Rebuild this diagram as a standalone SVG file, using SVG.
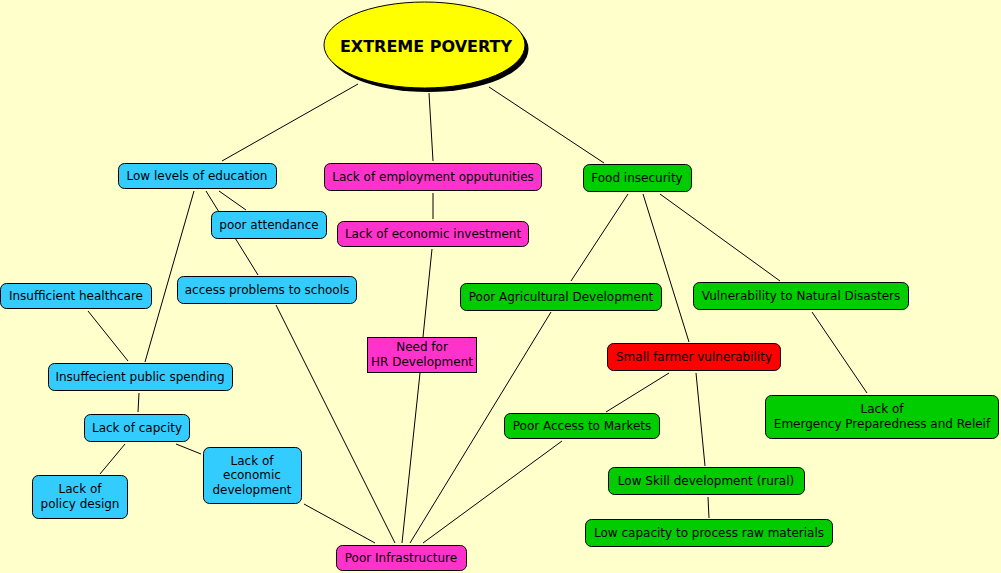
<svg xmlns="http://www.w3.org/2000/svg" width="1001" height="573" viewBox="0 0 1001 573">
<style>
.n{stroke:#000;stroke-width:1}
.b{fill:#33ccff}.m{fill:#ff33cc}.g{fill:#00cc00}.r{fill:#ff0000}
text{font-family:"DejaVu Sans",Verdana,sans-serif;font-size:12px;fill:#000;text-anchor:middle}
.t{font-weight:bold;font-size:16px}
#connectors line{stroke:#000;stroke-width:1}
</style>
<rect width="1001" height="573" fill="#ffffcc"/>
<g id="connectors">
<line x1="358" y1="84" x2="222" y2="161"/>
<line x1="429" y1="93" x2="433" y2="161"/>
<line x1="489" y1="87" x2="604" y2="163"/>
<line x1="219" y1="191" x2="246" y2="210"/>
<line x1="206" y1="191" x2="258" y2="275"/>
<line x1="194" y1="191" x2="145" y2="362"/>
<line x1="88" y1="311" x2="128" y2="361"/>
<line x1="139" y1="393" x2="138" y2="412"/>
<line x1="125" y1="444" x2="100" y2="474"/>
<line x1="176" y1="444" x2="201" y2="454"/>
<line x1="304" y1="504" x2="375" y2="543"/>
<line x1="276" y1="305" x2="395" y2="543"/>
<line x1="433" y1="193" x2="433" y2="219"/>
<line x1="432" y1="249" x2="423" y2="337"/>
<line x1="420" y1="373" x2="402" y2="543"/>
<line x1="628" y1="194" x2="571" y2="281"/>
<line x1="643" y1="194" x2="689" y2="342"/>
<line x1="660" y1="194" x2="780" y2="281"/>
<line x1="812" y1="312" x2="867" y2="393"/>
<line x1="669" y1="373" x2="606" y2="412"/>
<line x1="696" y1="373" x2="705" y2="466"/>
<line x1="708" y1="497" x2="709" y2="518"/>
<line x1="551" y1="312" x2="410" y2="543"/>
<line x1="562" y1="441" x2="423" y2="543"/>
</g>
<g id="extreme-poverty">
<ellipse cx="428" cy="49" rx="100.5" ry="43" fill="#000"/>
<ellipse cx="424.5" cy="45" rx="100.5" ry="43" fill="#ffff00" class="n"/>
<text x="426" y="52" class="t">EXTREME POVERTY</text>
</g>
<g id="low-education"><rect x="118.5" y="163.5" width="158" height="25" rx="6" class="n b"/><text x="197" y="180">Low levels of education</text></g>
<g id="poor-attendance"><rect x="211.5" y="211.5" width="115" height="27" rx="6" class="n b"/><text x="269" y="229">poor attendance</text></g>
<g id="access-problems"><rect x="177.5" y="276.5" width="179" height="27" rx="6" class="n b"/><text x="267" y="294">access problems to schools</text></g>
<g id="insufficient-healthcare"><rect x="0.5" y="283.5" width="151" height="25" rx="6" class="n b"/><text x="76" y="300">Insufficient healthcare</text></g>
<g id="public-spending"><rect x="48.5" y="363.5" width="184" height="27" rx="6" class="n b"/><text x="140" y="381">Insuffecient public spending</text></g>
<g id="lack-capacity"><rect x="84.5" y="414.5" width="105" height="27" rx="6" class="n b"/><text x="137" y="432">Lack of capcity</text></g>
<g id="policy-design"><rect x="32.5" y="475.5" width="95" height="43" rx="6" class="n b"/><text x="80" y="492.5">Lack of</text><text x="80" y="507.5">policy design</text></g>
<g id="economic-development"><rect x="203.5" y="447.5" width="98" height="56" rx="6" class="n b"/><text x="252" y="464.5">Lack of</text><text x="252" y="479">economic</text><text x="252" y="493.5">development</text></g>
<g id="employment"><rect x="324.5" y="163.5" width="217" height="27" rx="6" class="n m"/><text x="433" y="181">Lack of employment opputunities</text></g>
<g id="investment"><rect x="337.5" y="221.5" width="191" height="25" rx="6" class="n m"/><text x="433" y="238">Lack of economic investment</text></g>
<g id="hr-development"><rect x="367.5" y="337.5" width="109" height="35" class="n m"/><text x="422" y="351">Need for</text><text x="422" y="365.5">HR Development</text></g>
<g id="poor-infrastructure"><rect x="336.5" y="545.5" width="130" height="25" rx="6" class="n m"/><text x="401" y="562">Poor Infrastructure</text></g>
<g id="food-insecurity"><rect x="583.5" y="164.5" width="108" height="27" rx="6" class="n g"/><text x="637" y="182">Food insecurity</text></g>
<g id="agricultural-development"><rect x="460.5" y="283.5" width="201" height="27" rx="6" class="n g"/><text x="561" y="301">Poor Agricultural Development</text></g>
<g id="natural-disasters"><rect x="693.5" y="282.5" width="215" height="27" rx="6" class="n g"/><text x="801" y="300">Vulnerability to Natural Disasters</text></g>
<g id="small-farmer"><rect x="607.5" y="343.5" width="173" height="27" rx="6" class="n r"/><text x="694" y="361">Small farmer vulnerability</text></g>
<g id="access-markets"><rect x="504.5" y="413.5" width="155" height="25" rx="6" class="n g"/><text x="582" y="430">Poor Access to Markets</text></g>
<g id="emergency"><rect x="765.5" y="395.5" width="233" height="43" rx="6" class="n g"/><text x="882" y="413">Lack of</text><text x="882" y="427.5">Emergency Preparedness and Releif</text></g>
<g id="low-skill"><rect x="608.5" y="467.5" width="196" height="27" rx="6" class="n g"/><text x="706" y="485">Low Skill development (rural)</text></g>
<g id="raw-materials"><rect x="585.5" y="519.5" width="247" height="27" rx="6" class="n g"/><text x="709" y="537">Low capacity to process raw materials</text></g>
</svg>
